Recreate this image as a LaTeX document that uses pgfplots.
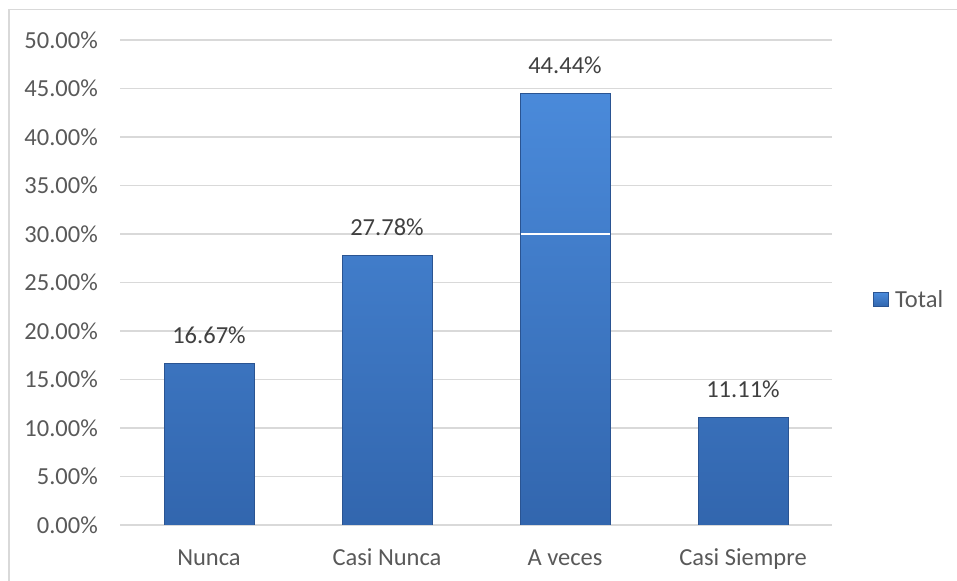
\documentclass[border=0pt]{standalone}
\usepackage{pgfplots}
\pgfplotsset{compat=1.18}
\usepackage{fontspec}
\setmainfont{Carlito}
\definecolor{gridc}{RGB}{217,217,217}
\definecolor{tickc}{RGB}{89,89,89}
\definecolor{labc}{RGB}{64,64,64}
\definecolor{bartop}{RGB}{74,138,218}
\definecolor{barbot}{RGB}{50,102,174}
\definecolor{baredge}{RGB}{42,84,146}
\begin{document}
\fontsize{24.5bp}{29bp}\selectfont
\begin{tikzpicture}
\useasboundingbox (0,0) rectangle (957bp,581bp);
\draw[gridc, line width=1.2bp] (9bp,-10bp) -- (9bp,571.5bp) -- (980bp,571.5bp);
\begin{axis}[
  at={(120bp,56bp)}, anchor=south west,
  scale only axis, width=712bp, height=485bp,
  xmin=-0.5, xmax=3.5, ymin=0, ymax=50,
  axis line style={draw=none},
  axis x line*=bottom,
  ytick={0,5,...,50},
  ymajorgrids, grid style={gridc, line width=1.2bp},
  major tick length=0pt,
  xtick={0,1,2,3},
  xticklabels={Nunca,Casi Nunca,A veces,Casi Siempre},
  yticklabel={\pgfmathprintnumber[fixed,precision=2,fixed zerofill]{\tick}\%},
  yticklabel style={inner sep=0pt, anchor=east, xshift=-22bp, text=tickc, font=\fontsize{24.5bp}{29bp}\selectfont},
  xticklabel style={inner sep=0pt, anchor=base, yshift=-40bp, text=tickc, font=\fontsize{24.5bp}{29bp}\selectfont},
  /pgf/number format/assume math mode=true,
  ybar, bar width=90bp,
  nodes near coords={\pgfmathprintnumber[fixed,precision=2,fixed zerofill]{\pgfplotspointmeta}\%},
  nodes near coords style={anchor=base, inner sep=0pt, yshift=20bp, text=labc, font=\fontsize{24.5bp}{29bp}\selectfont},
  legend style={at={(1.0576,0.466)}, anchor=west, draw=none, fill=none, inner sep=0pt,
    font=\fontsize{24.5bp}{29bp}\selectfont, text=tickc,
    nodes={inner sep=0pt, text depth=0pt}, column sep=6bp},
  legend image code/.code={\fill[top color=bartop, bottom color=barbot, draw=baredge] (0bp,-7.5bp) rectangle (15bp,6bp);},
]
\addplot[top color=bartop, bottom color=barbot, draw=baredge, line width=1bp]
  coordinates {(0,16.67) (1,27.78) (2,44.44) (3,11.11)};
\addlegendentry{Total}
\draw[white, line width=1.5bp] (axis cs:1.75,30) -- (axis cs:2.25,30);
\end{axis}
\end{tikzpicture}
\end{document}
